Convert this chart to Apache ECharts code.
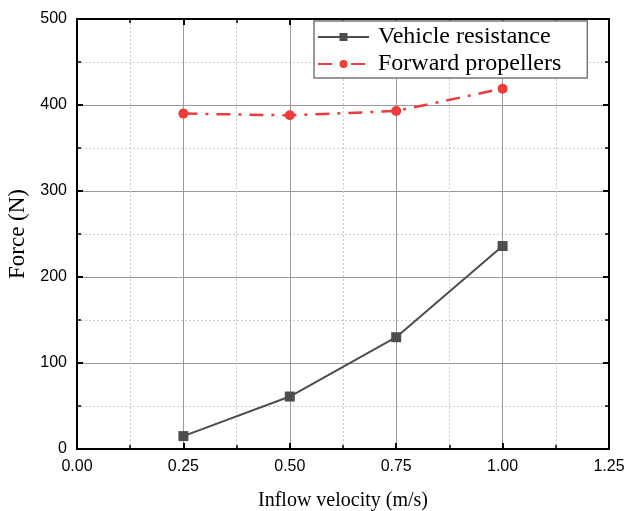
<!DOCTYPE html>
<html><head><meta charset="utf-8">
<script src="https://cdn.jsdelivr.net/npm/echarts@6/dist/echarts.min.js"></script>
<style>html,body{margin:0;padding:0;background:#fff}#c{width:627px;height:511px}</style>
</head><body><div id="c"></div>
<script>
const velocity = [0.25, 0.5, 0.75, 1.0];
const vehicleResistance = [15, 61, 130, 236];
const forwardPropellers = [390, 388, 393, 419];
const xTicks = [0, 0.25, 0.5, 0.75, 1.0, 1.25];
const yTicks = [0, 100, 200, 300, 400, 500];

const chart = echarts.init(document.getElementById('c'));
const axisCommon = {
  axisLine: {show: true, onZero: false, lineStyle: {color: '#000', width: 2}},
  axisTick: {show: true, inside: true, length: 6, lineStyle: {color: '#000', width: 2}},
  minorTick: {show: true, splitNumber: 2, length: 4, lineStyle: {color: '#000', width: 1.5}}
};
chart.setOption({
  animation: false,
  grid: {left: 77, right: 18, top: 19, bottom: 62, containLabel: false, outerBoundsMode: 'none'},
  legend: {
    orient: 'vertical', left: 314, top: 21, itemWidth: 51, itemHeight: 10, itemGap: 3,
    padding: [4, 26, 2, 3],
    borderColor: '#777', borderWidth: 1.5, backgroundColor: '#fff',
    textStyle: {fontFamily: 'Liberation Serif', fontSize: 24, color: '#000', padding: [0, 0, 0, 4]},
    data: ['Vehicle resistance', 'Forward propellers']
  },
  xAxis: [
    Object.assign({}, axisCommon, {
      type: 'value', min: xTicks[0], max: xTicks[xTicks.length - 1], interval: 0.25,
      name: 'Inflow velocity (m/s)', nameLocation: 'middle', nameGap: 42,
      nameTextStyle: {fontFamily: 'Liberation Serif', fontSize: 20, color: '#000'},
      axisLabel: {fontFamily: 'Liberation Sans', fontSize: 16, color: '#000', margin: 10,
        formatter: v => v.toFixed(2)},
      splitLine: {show: true, lineStyle: {color: '#999', width: 1}},
      minorSplitLine: {show: true, lineStyle: {color: '#ccc', type: [2, 2], width: 1}}
    }),
    Object.assign({}, axisCommon, {
      type: 'value', position: 'top', min: 0, max: 1.25, interval: 0.25,
      axisLabel: {show: false}, splitLine: {show: false}
    })
  ],
  yAxis: [
    Object.assign({}, axisCommon, {
      type: 'value', min: yTicks[0], max: yTicks[yTicks.length - 1], interval: 100,
      name: 'Force (N)', nameLocation: 'middle', nameGap: 40,
      nameTextStyle: {fontFamily: 'Liberation Serif', fontSize: 23, color: '#000'},
      axisLabel: {fontFamily: 'Liberation Sans', fontSize: 16, color: '#000', margin: 10},
      splitLine: {show: true, lineStyle: {color: '#999', width: 1}},
      minorSplitLine: {show: true, lineStyle: {color: '#ccc', type: [2, 2], width: 1}}
    }),
    Object.assign({}, axisCommon, {
      type: 'value', position: 'right', min: 0, max: 500, interval: 100,
      axisLabel: {show: false}, splitLine: {show: false}
    })
  ],
  series: [
    {
      name: 'Vehicle resistance', type: 'line', xAxisIndex: 0, yAxisIndex: 0,
      data: velocity.map((v, i) => [v, vehicleResistance[i]]),
      symbol: 'rect', symbolSize: 10,
      itemStyle: {color: '#4d4d4d'},
      lineStyle: {color: '#4d4d4d', width: 2}
    },
    {
      name: 'Forward propellers', type: 'line', xAxisIndex: 0, yAxisIndex: 0,
      data: velocity.map((v, i) => [v, forwardPropellers[i]]),
      symbol: 'circle', symbolSize: 10,
      itemStyle: {color: '#ee3b3b'},
      lineStyle: {color: '#ee3b3b', width: 2.5, type: [14, 8, 3, 8]}
    }
  ]
});
</script></body></html>
